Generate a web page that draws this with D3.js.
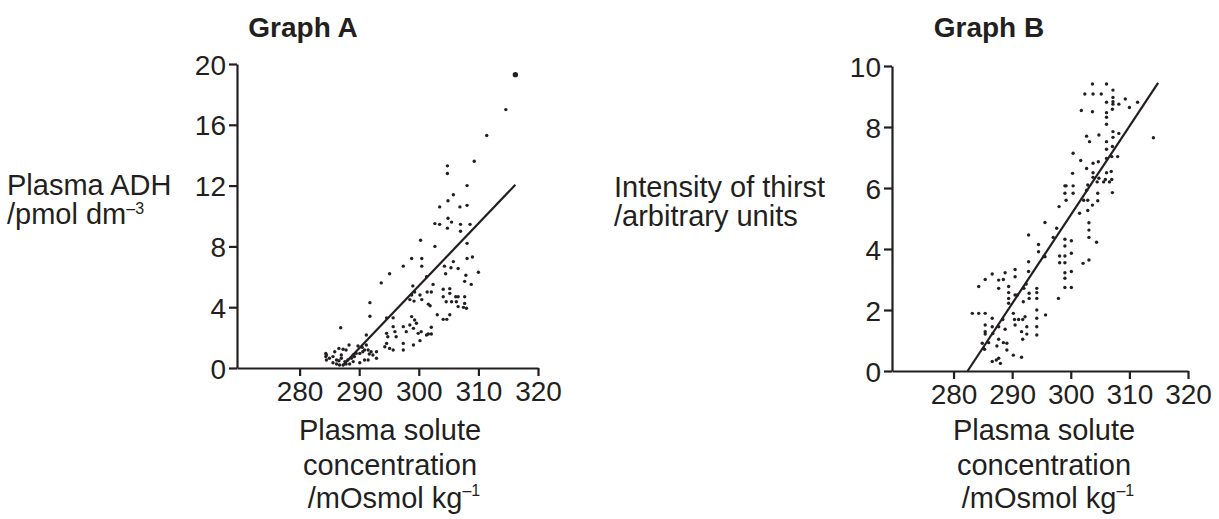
<!DOCTYPE html>
<html><head><meta charset="utf-8">
<script src="https://cdn.jsdelivr.net/npm/d3@7"></script>
<style>
body{margin:0;background:#fff}
svg text{font-family:"Liberation Sans",Arial,Helvetica,sans-serif;fill:#231f20}
</style>
</head><body>
<svg id="chart" width="1219" height="519"></svg>
<script>
// ---------- data ----------
const xTickValues = [280, 290, 300, 310, 320];
const yTickValuesA = [0, 4, 8, 12, 16, 20];
const yTickValuesB = [0, 2, 4, 6, 8, 10];

// Graph A: plasma solute concentration vs plasma ADH
const pointsA = [
 [316.2,19.3],[314.6,17.0],[311.4,15.3],[309.3,13.6],[304.8,13.3],[304.8,12.8],[308.1,12.0],
 [305.8,11.4],[304.9,11.0],[303.5,10.6],[306.9,10.6],[308.1,10.7],
 [304.9,9.85],[305.5,9.6],[304.8,9.2],[302.7,9.5],[303.5,9.45],[307.0,9.45],[307.0,9.0],[308.6,9.45],
 [300.3,8.4],[302.7,8.0],[308.1,8.2],
 [298.8,7.2],[300.5,7.2],[300.5,6.7],[297.4,6.7],[295.1,6.2],[293.7,5.6],
 [304.3,6.7],[305.4,6.6],[306.6,6.55],[305.8,7.0],[308.1,7.2],[309.0,7.3],[310.0,6.3],
 [304.5,6.2],[301.3,6.0],[307.9,6.1],[307.7,5.7],[308.8,5.5],
 [299.0,5.4],[299.3,5.0],[298.8,4.8],[300.2,4.8],[298.5,4.5],[299.2,4.4],[300.5,4.5],
 [301.4,5.0],[302.1,5.0],[302.4,5.5],[301.6,4.2],[301.9,4.1],
 [304.1,5.18],[305.2,5.22],[305.2,4.91],[306.2,4.69],[306.6,4.69],[304.1,4.69],[304.6,4.36],
 [305.5,4.36],[306.3,4.36],[306.6,4.04],[307.7,4.69],[307.7,4.25],[308.0,3.93],[307.5,3.99],
 [303.1,3.5],[304.1,3.2],[304.7,3.2],[305.2,3.5],
 [302.1,2.68],[301.6,2.24],[302.1,2.24],[301.3,2.17],
 [291.8,4.3],[291.8,3.4],[294.6,3.3],[295.7,3.3],
 [298.8,3.38],[299.3,3.16],[299.6,2.94],[298.5,2.83],[299.1,2.61],[297.9,2.39],[297.4,2.72],[299.9,2.28],[300.4,2.39],
 [295.7,2.72],[296.0,2.39],[294.6,2.28],[294.8,2.06],[296.2,2.06],[297.4,1.62],[294.6,1.62],[294.3,1.40],
 [295.1,1.29],[295.7,1.18],[297.4,1.18],[299.1,1.51],[300.2,1.8],
 [286.9,2.65],[291.2,2.17],[289.8,1.45],
 [288.3,1.51],[287.8,1.18],[287.3,1.23],[286.6,1.29],[285.9,1.07],[284.4,0.96],[284.4,0.75],[284.5,0.53],
 [285.0,0.64],[285.6,0.75],[286.2,0.53],[286.6,0.48],[287.0,0.64],[287.6,0.42],[288.1,0.53],[288.7,0.64],
 [289.2,0.75],[290.1,0.96],[290.6,1.07],[290.9,1.18],[291.5,1.18],[292.0,1.07],[292.3,0.86],[292.9,1.07],
 [292.9,0.64],[291.5,0.53],[290.1,0.35],[289.0,0.42],[287.8,0.26],[287.3,0.2],[286.7,0.2],[286.2,0.26],
 [285.6,0.35],[290.5,1.36],[291.2,1.51],[291.7,0.92],[290.9,0.53],[289.5,0.96],[289.0,0.86],[287.0,0.86],
 [288.4,0.26],[284.5,0.86]
];

// Graph B: plasma solute concentration vs intensity of thirst
const pointsB = [
 [303.7,9.41],[306.1,9.41],[302.4,9.08],[303.8,9.08],[305.2,9.08],[307.2,9.21],[307.2,8.97],[307.2,8.83],
 [306.1,8.81],[307.2,8.75],[308.2,8.75],[309.3,8.92],[311.4,8.81],[310.0,8.64],[301.8,8.54],[303.7,8.5],
 [306.1,8.47],[306.1,8.32],[306.1,8.09],[307.1,8.58],[302.7,7.7],[303.2,7.52],[304.8,7.74],[307.2,7.85],
 [308.2,7.79],[307.2,7.66],[306.1,7.52],[307.1,7.36],[306.1,7.27],[314.1,7.65],[300.4,7.14],[301.7,6.9],
 [303.8,6.81],[304.7,6.86],[308.0,7.03],[307.0,7.03],[306.1,6.97],[302.7,6.64],[303.8,6.5],[306.1,6.5],
 [306.9,6.54],[300.3,6.48],[303.8,6.35],[304.8,6.32],[305.9,6.28],[307.0,6.28],[299.2,6.07],[300.4,6.07],
 [299.0,6.07],[300.4,5.83],[299.0,5.83],[299.2,5.6],[298.0,5.39],[302.9,6.1],[301.5,5.17],[302.2,5.6],
 [302.9,5.6],[302.9,5.26],[304.6,5.83],[304.6,5.58],[303.7,5.44],[307.1,5.85],[306.6,6.2],[305.6,6.2],
 [304.5,6.2],[303.1,4.86],[303.1,4.62],[303.1,4.38],[304.4,4.22],[303.1,3.64],[302.1,3.53],
 [295.6,4.87],[297.6,4.68],[292.8,4.46],[294.5,4.15],[294.5,3.91],[295.4,3.75],
 [299.0,4.32],[300.1,4.27],[299.0,4.1],[300.1,3.86],[298.1,3.77],[299.0,3.77],[299.0,3.55],[298.1,3.55],
 [300.1,3.26],[299.0,3.22],[299.0,3.04],[300.1,2.74],[299.0,2.74],[297.9,2.38],
 [292.8,3.58],[292.8,3.26],[290.5,3.33],[290.5,3.09],[288.8,3.22],[287.7,2.98],[287.7,2.71],[288.5,3.0],
 [286.6,3.18],[285.4,3.0],[284.3,2.77],[289.4,2.77],[289.4,2.57],[289.4,2.38],[289.4,2.22],[290.5,2.49],
 [290.9,2.49],[294.2,2.71],[294.2,2.57],[294.2,2.38],[292.9,2.55],[292.9,2.38],[292.0,2.71],[291.9,2.27],
 [294.2,2.0],[294.2,1.73],[294.2,1.45],[294.2,1.18],[295.7,1.84],[283.2,1.89],[284.3,1.89],[285.4,1.89],
 [290.2,1.89],[290.4,1.69],[291.1,1.69],[291.8,1.69],[292.2,1.78],[292.5,1.45],[292.5,1.21],[291.8,1.04],
 [291.6,1.29],[290.5,1.51],[286.6,1.73],[285.4,1.51],[285.4,1.29],[286.6,1.45],[285.4,1.21],[287.7,1.45],
 [288.8,1.37],[287.7,1.04],[288.5,0.93],[289.1,0.91],[287.4,0.82],[289.1,0.69],[285.3,0.71],[286.0,0.93],
 [286.6,0.31],[287.3,0.36],[288.0,0.25],[287.7,0.42],[290.2,0.52],[291.6,0.45],[284.9,0.91],
 [292.4,2.85],[288.4,1.69],[286.7,1.23],[285.1,0.74],[295.6,3.75],[297.0,4.38],[302.7,5.93]
];

const lineA = [[287.2,0.15],[316.2,12.05]];
const lineB = [[282.4,0],[314.9,9.45]];

// ---------- drawing ----------
const svg = d3.select("#chart");
const ink = "#231f20";

function panel(cfg){
  const x = d3.scaleLinear().domain([269.5,320]).range([cfg.x0,cfg.x1]);
  const y = d3.scaleLinear().domain([0,cfg.ymax]).range([cfg.yb,cfg.yt]);
  const g = svg.append("g");

  const ax = g.append("g").attr("transform",`translate(0,${cfg.yb})`)
    .call(d3.axisBottom(x).tickValues(xTickValues).tickSize(8).tickSizeOuter(0).tickPadding(5));
  const ay = g.append("g").attr("transform",`translate(${cfg.x0},0)`)
    .call(d3.axisLeft(y).tickValues(cfg.yticks).tickSize(8).tickSizeOuter(0).tickPadding(3));
  [ax,ay].forEach(a=>{
    a.selectAll("path,line").attr("stroke",ink).attr("stroke-width",2.2);
    a.selectAll("text").attr("font-size",28).attr("fill",ink)
     .style("font-family",'"Liberation Sans",Arial,sans-serif');
  });
  ay.selectAll("text").attr("dy","0.36em");

  g.append("line")
    .attr("x1",x(cfg.line[0][0])).attr("y1",y(cfg.line[0][1]))
    .attr("x2",x(cfg.line[1][0])).attr("y2",y(cfg.line[1][1]))
    .attr("stroke",ink).attr("stroke-width",2.2);

  g.selectAll("circle.pt").data(cfg.pts).join("circle").attr("class","pt")
    .attr("cx",d=>x(d[0])).attr("cy",d=>y(d[1]))
    .attr("r",(d,i)=> (cfg.big && i===0) ? 2.7 : 1.7).attr("fill",ink);

  g.append("text").attr("x",cfg.tx).attr("y",37).attr("text-anchor","middle")
    .attr("font-size",28).attr("font-weight","bold").text(cfg.title);

  // x title
  const xt = g.append("text").attr("text-anchor","middle").attr("font-size",29);
  xt.append("tspan").attr("x",cfg.xtx).attr("y",440).text("Plasma solute");
  xt.append("tspan").attr("x",cfg.xtx).attr("y",475).text("concentration");
  xt.append("tspan").attr("x",cfg.xtx+4).attr("y",508).text("/mOsmol kg");
  xt.append("tspan").attr("dy",-12).attr("font-size",16).text("–1");

  // y title
  const yt = g.append("text").attr("font-size",29);
  yt.append("tspan").attr("x",cfg.ytx).attr("y",cfg.yty).text(cfg.ytitle[0]);
  yt.append("tspan").attr("x",cfg.ytx).attr("y",cfg.yty+29).text(cfg.ytitle[1]);
  if(cfg.ysup) yt.append("tspan").attr("dy",-10).attr("font-size",16).text(cfg.ysup);
}

panel({x0:237,x1:538,yb:368,yt:64,ymax:20,yticks:yTickValuesA,pts:pointsA,line:lineA,big:true,
  title:"Graph A",tx:303,xtx:390,ytx:7,yty:195,ytitle:["Plasma ADH","/pmol dm"],ysup:"–3"});
panel({x0:892,x1:1188,yb:371,yt:66,ymax:10,yticks:yTickValuesB,pts:pointsB,line:lineB,big:false,
  title:"Graph B",tx:989,xtx:1044,ytx:614,yty:197,ytitle:["Intensity of thirst","/arbitrary units"],ysup:null});
</script>
</body></html>
